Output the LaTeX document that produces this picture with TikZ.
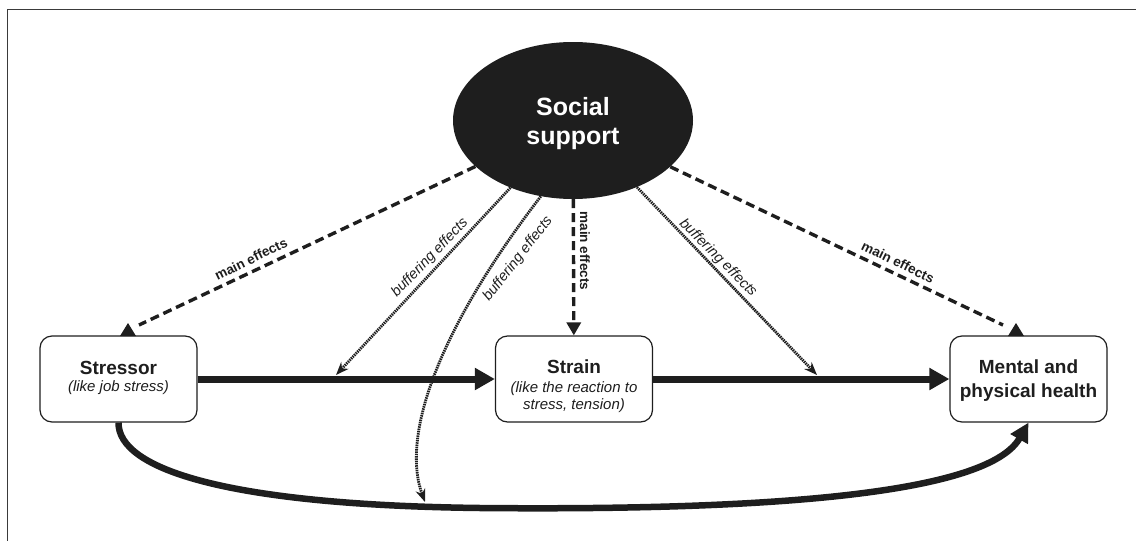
\documentclass[tikz,border=0pt]{standalone}
\usepackage{fontspec}
\setmainfont{Liberation Sans}
\usetikzlibrary{arrows.meta,shapes.geometric}

\definecolor{ink}{HTML}{1E1E1E}
\definecolor{framegray}{HTML}{3A3A3A}

\begin{document}
\begin{tikzpicture}[x=1pt,y=-1pt,
  box/.style={draw=ink, line width=1.2pt, rounded corners=12pt, fill=white,
    minimum width=157pt, minimum height=86pt, inner sep=0pt},
  boxtext/.style={inner sep=0pt, align=center, text=ink,
    font=\fontsize{19}{17}\selectfont},
  hub/.style={ellipse, fill=ink, minimum width=240pt, minimum height=157pt,
    inner sep=0pt},
  hubtext/.style={inner sep=0pt, text=white, align=center,
    font=\fontsize{25}{29}\selectfont\bfseries},
  flow/.style={draw=ink, line width=7pt, -{Triangle[length=20pt,width=21pt]}},
  mainfx/.style={draw=ink, line width=3.4pt, dash pattern=on 9pt off 5pt},
  bufferfx/.style={draw=ink, line width=2.8pt, dash pattern=on 1.5pt off 0.8pt,
    -{Stealth[length=13pt,width=10pt]}},
  lblmain/.style={text=ink, inner sep=0pt, font=\fontsize{13.5}{15}\selectfont\bfseries},
  lblbuf/.style={text=ink, inner sep=0pt, font=\fontsize{14.5}{16}\selectfont\itshape},
]
\useasboundingbox (0,0) rectangle (1136,541);

% frame
\draw[framegray, line width=1.5pt] (1136,9.5) -- (7.5,9.5) -- (7.5,541);

% hub and boxes
\node[hub] (ss) at (573,120.5) {};
\node[hubtext] (sstext) at (573,124) {Social\\support};

\node[box] (stressor) at (118.5,379) {};
\node[boxtext] (stressortext) at (118.5,378)
  {\bfseries Stressor\\{\fontsize{15}{17}\selectfont\itshape (like job stress)}};

\node[box] (strain) at (574,379) {};
\node[boxtext] (straintext) at (574,386)
  {\bfseries Strain\\[2pt]{\fontsize{15}{17}\selectfont\itshape (like the reaction to}\\{\fontsize{15}{17}\selectfont\itshape stress, tension)}};

\node[box] (health) at (1028.5,379) {};
\node[boxtext] (healthtext) at (1028.5,381)
  {\bfseries Mental and\\[7pt]\bfseries physical health};

% free ends of the support connectors
\coordinate (meL) at (139,325);
\coordinate (meR) at (1003,325);
\coordinate (tipL) at (128,336);
\coordinate (tipR) at (1016,336);
\coordinate (bufA) at (336,375);
\coordinate (bufB) at (425,502);
\coordinate (bufC) at (817,375);

% main causal chain
\draw[flow] (stressor) -- (strain);
\draw[flow] (strain) -- (health);
\draw[draw=ink, line width=6.5pt, -{Triangle[length=19pt,width=19pt]}]
  (stressor.south) .. controls (118,470) and (230,505) .. (480,508)
  .. controls (800,511) and (990,490) .. (health.south);

% main effects of social support
\draw[mainfx] (ss) -- (meL);
\draw[mainfx] (ss) -- (meR);
\draw[mainfx, -{Triangle[length=13pt,width=14pt]}] (ss) -- (strain);
\fill[ink] (tipL) ++(-8,0) -- ++(8,-13) -- ++(8,13) -- cycle;
\fill[ink] (tipR) ++(-8,0) -- ++(8,-13) -- ++(8,13) -- cycle;

% buffering effects
\draw[bufferfx] (ss) -- (bufA);
\draw[bufferfx] (ss) -- (bufC);
\draw[bufferfx] (ss.247) .. controls (432,338) and (402,440) .. (bufB);

% labels
\node[lblmain, rotate=26] (lmL) at (251,259) {main effects};
\node[lblbuf, rotate=46] (lbA) at (430,258) {buffering effects};
\node[lblbuf, rotate=52] (lbB) at (518,259) {buffering effects};
\node[lblmain, rotate=-90] (lmM) at (585,251) {main effects};
\node[lblbuf, rotate=-45] (lbC) at (718,258) {buffering effects};
\node[lblmain, rotate=-26] (lmR) at (898,262) {main effects};
\end{tikzpicture}
\end{document}
